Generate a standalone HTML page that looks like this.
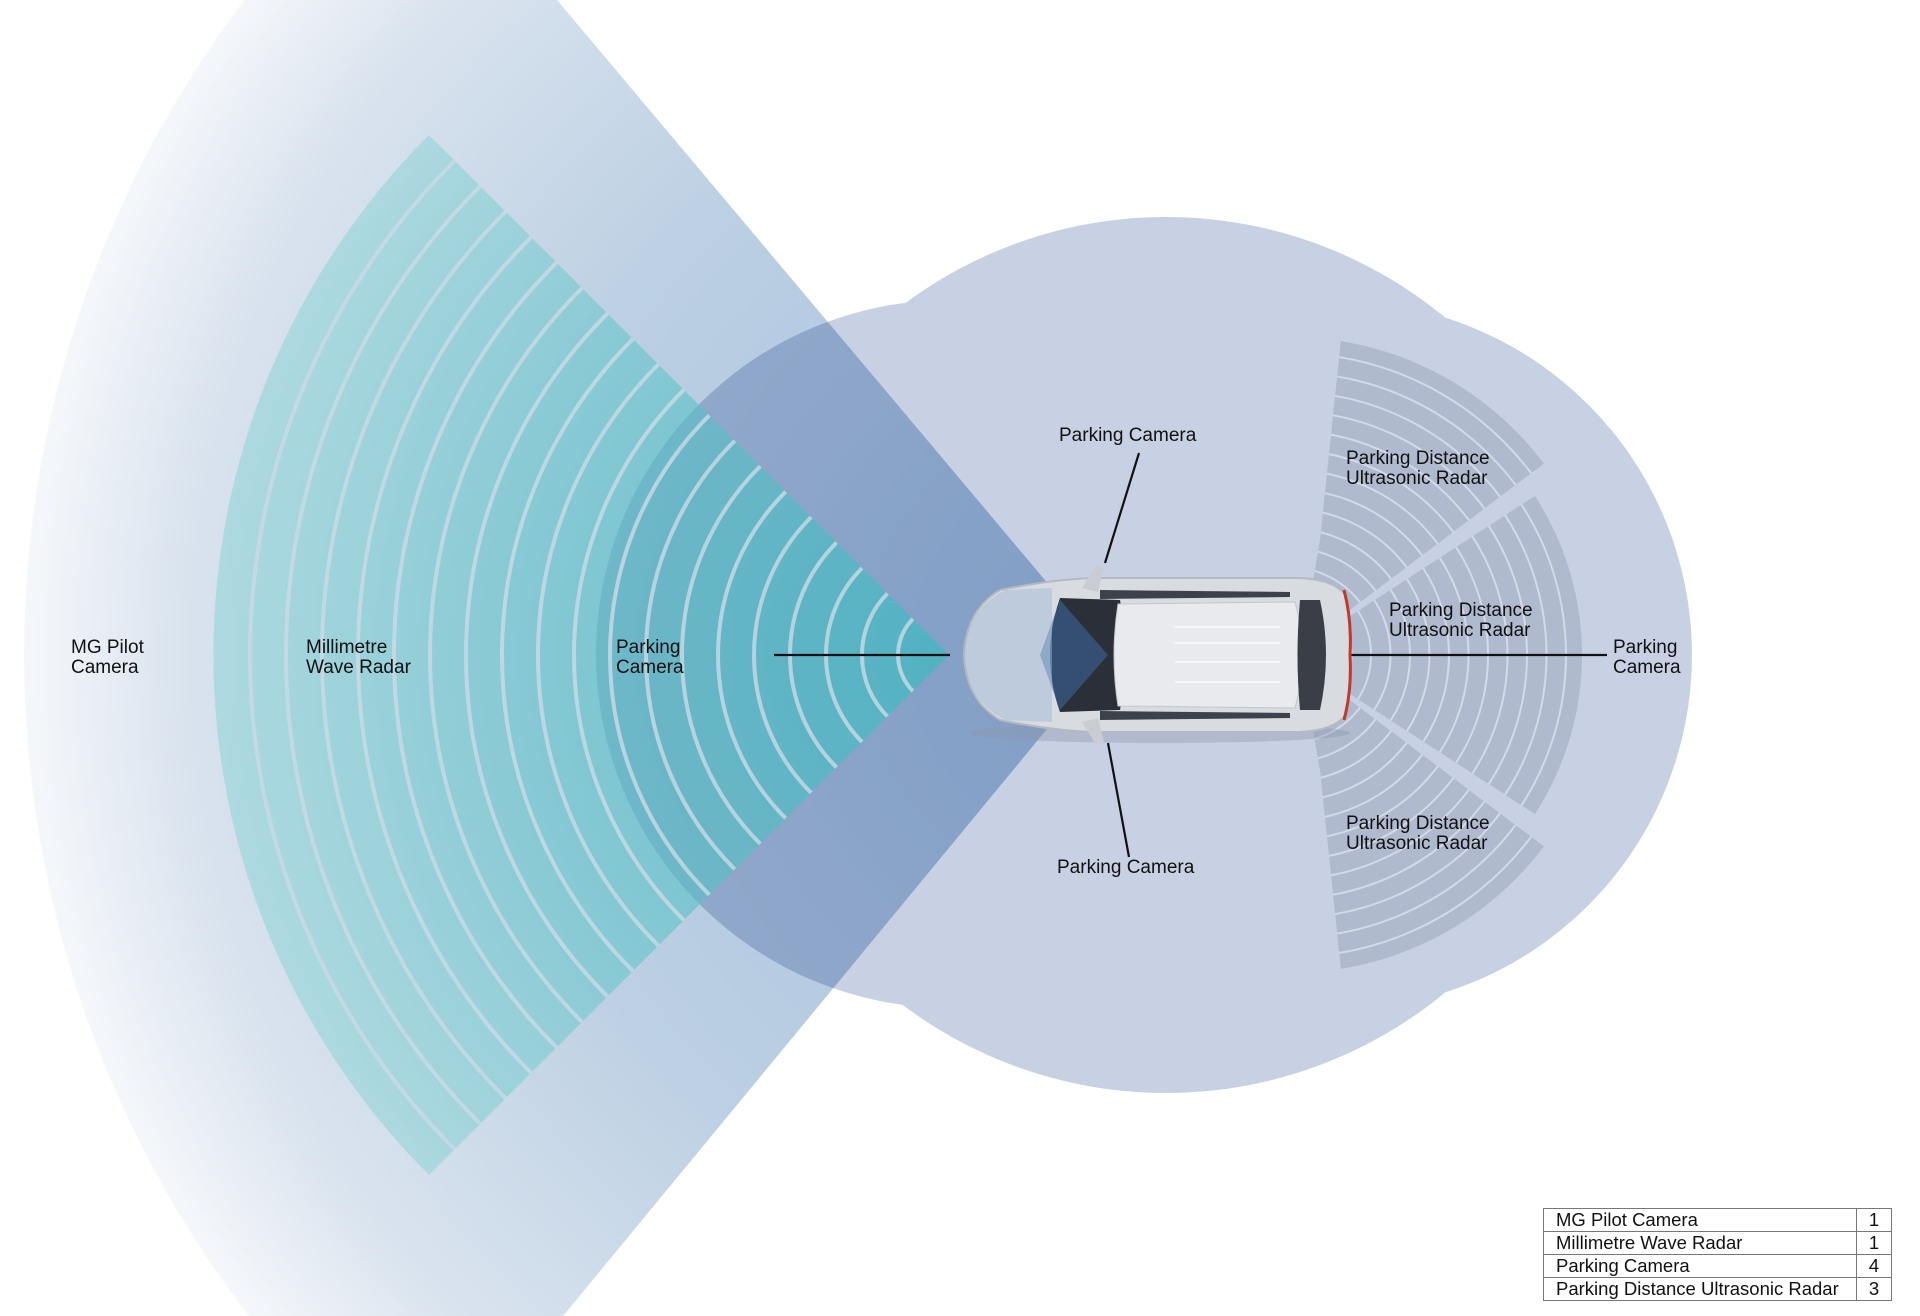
<!DOCTYPE html>
<html><head><meta charset="utf-8"><style>
html,body{margin:0;padding:0;background:#fff}
body{width:1920px;height:1316px;overflow:hidden;position:relative;font-family:"Liberation Sans",sans-serif}
.l{position:absolute;font-size:19px;line-height:20px;color:#111}
table{position:absolute;left:1543px;top:1208px;border-collapse:collapse;font-size:18.5px;color:#111}
td{border:1.5px solid #777;padding:0 0 0 12px;height:22px;line-height:22px}
td.n{padding:0;width:34px;text-align:center}
</style></head><body>
<svg width="1920" height="1316" style="position:absolute;left:0;top:0">
<defs>
<radialGradient id="cone" cx="1108" cy="655" r="1090" gradientUnits="userSpaceOnUse">
<stop offset="0" stop-color="#a3c0dd"/><stop offset="0.55" stop-color="#bdd0e3"/><stop offset="0.85" stop-color="#d9e3ee"/><stop offset="1" stop-color="#f6f8fb"/></radialGradient>
<radialGradient id="teal" cx="949" cy="655" r="740" gradientUnits="userSpaceOnUse">
<stop offset="0" stop-color="#3fb8c0" stop-opacity="0.75"/><stop offset="0.6" stop-color="#5cc4c8" stop-opacity="0.55"/><stop offset="1" stop-color="#8ed3d6" stop-opacity="0.55"/></radialGradient>
<clipPath id="ucp"><polygon points="1342,330 1320,540 1300,655 1320,770 1342,980 1800,980 1800,330"/></clipPath>
<clipPath id="cc"><circle cx="1108" cy="655" r="1084"/></clipPath>
</defs>
<g fill="#c8d1e4">
<circle cx="1166" cy="655" r="438"/><circle cx="950" cy="654" r="354"/><circle cx="1338" cy="655" r="354"/>
</g>
<path d="M1108,655 L557,0 L0,0 L0,1316 L563,1316 Z" fill="url(#cone)" style="mix-blend-mode:multiply" clip-path="url(#cc)"/>
<g>
<path d="M949,655 L429,135 A735,735 0 0 0 429,1175 Z" fill="url(#teal)"/>
<g fill="none" stroke="#c9dbe6" stroke-width="4" stroke-opacity="0.8" id="arcs"></g>
</g>
<g clip-path="url(#ucp)" id="us"></g>
<g stroke="#111" stroke-width="2.2">
<line x1="774" y1="655" x2="950" y2="655"/>
<line x1="1139" y1="453" x2="1105" y2="563"/>
<line x1="1108" y1="743" x2="1129" y2="857"/>
<line x1="1332" y1="655" x2="1607" y2="655"/>
</g>
<g>
<ellipse cx="1160" cy="733" rx="190" ry="10" fill="#8b97ad" opacity="0.4"/>
<path d="M1000,590 Q1060,578 1100,578 L1300,578 Q1340,580 1348,600 Q1352,655 1348,710 Q1340,730 1300,732 L1100,732 Q1060,732 1000,720 Q966,700 964,655 Q966,610 1000,590 Z" fill="#d8dbe0" stroke="#b5b9c0" stroke-width="2"/>
<path d="M1060,598 L1120,600 Q1130,655 1120,710 L1060,712 Q1040,655 1060,598 Z" fill="#2a2f38"/>
<path d="M1118,604 L1295,602 Q1310,655 1295,708 L1118,706 Q1110,655 1118,604 Z" fill="#e8eaed" stroke="#c3c6cc"/>
<path d="M1300,600 L1320,600 Q1332,655 1320,710 L1300,710 Q1295,655 1300,600 Z" fill="#3a3f47"/>
<g stroke="#f6f7f9" stroke-width="2"><line x1="1175" y1="627" x2="1280" y2="627"/><line x1="1175" y1="643" x2="1280" y2="643"/><line x1="1175" y1="662" x2="1280" y2="662"/><line x1="1175" y1="682" x2="1280" y2="682"/></g>
<path d="M1100,590 L1290,592 L1290,597 L1100,599 Z M1100,711 L1290,713 L1290,718 L1100,720 Z" fill="#3c424b"/>
<path d="M1344,590 Q1352,620 1350,655 Q1352,690 1344,720" fill="none" stroke="#c0392b" stroke-width="3"/>
<path d="M1108,655 L1060,600 L1040,655 L1060,710 Z" fill="#3d6aa3" opacity="0.55"/>
<path d="M1052,588 L1005,590 Q966,610 964,655 Q966,700 1005,720 L1052,722 Z" fill="#9fb7d6" opacity="0.45"/>
<path d="M1082,588 L1096,565 L1104,568 L1098,592 Z M1082,722 L1096,745 L1104,742 L1098,718 Z" fill="#c9ccd2"/>
</g>
</svg>
<div class="l" style="left:71px;top:638px">MG Pilot<br>Camera</div>
<div class="l" style="left:306px;top:638px">Millimetre<br>Wave Radar</div>
<div class="l" style="left:616px;top:638px">Parking<br>Camera</div>
<div class="l" style="left:1059px;top:426px">Parking Camera</div>
<div class="l" style="left:1057px;top:858px">Parking Camera</div>
<div class="l" style="left:1346px;top:449px">Parking Distance<br>Ultrasonic Radar</div>
<div class="l" style="left:1389px;top:601px">Parking Distance<br>Ultrasonic Radar</div>
<div class="l" style="left:1346px;top:814px">Parking Distance<br>Ultrasonic Radar</div>
<div class="l" style="left:1613px;top:638px">Parking<br>Camera</div>
<table>
<tr><td style="width:300px">MG Pilot Camera</td><td class="n">1</td></tr>
<tr><td>Millimetre Wave Radar</td><td class="n">1</td></tr>
<tr><td>Parking Camera</td><td class="n">4</td></tr>
<tr><td>Parking Distance Ultrasonic Radar</td><td class="n">3</td></tr>
</table>
<script>
(function(){
var ns="http://www.w3.org/2000/svg";
var g=document.getElementById("arcs");
var cx=949,cy=655;
for(var r=699;r>30;r-=36){
 var a=Math.PI/4,x1=cx-r*Math.cos(a),y1=cy-r*Math.sin(a),y2=cy+r*Math.sin(a);
 var p=document.createElementNS(ns,"path");
 p.setAttribute("d","M"+x1+","+y1+" A"+r+","+r+" 0 0 0 "+x1+","+y2);
 g.appendChild(p);
}
var us=document.getElementById("us");
var ux=1290,uy=655;
function sec(a0,a1,R){
 var d2r=Math.PI/180;
 function pt(a,r){return (ux+r*Math.cos(a*d2r))+","+(uy+r*Math.sin(a*d2r));}
 var p=document.createElementNS(ns,"path");
 p.setAttribute("d","M"+ux+","+uy+" L"+pt(a0,R)+" A"+R+","+R+" 0 0 1 "+pt(a1,R)+" Z");
 p.setAttribute("fill","#a7b1c8");p.setAttribute("fill-opacity","0.75");
 us.appendChild(p);
 for(var r=R-16;r>20;r-=19.5){
  var q=document.createElementNS(ns,"path");
  q.setAttribute("d","M"+pt(a0,r)+" A"+r+","+r+" 0 0 1 "+pt(a1,r));
  q.setAttribute("fill","none");q.setAttribute("stroke","#d3dae7");q.setAttribute("stroke-width","2");
  us.appendChild(q);
 }
}
sec(-95,-37,318);sec(-33,33,292);sec(37,95,318);
})();
</script>
</body></html>
